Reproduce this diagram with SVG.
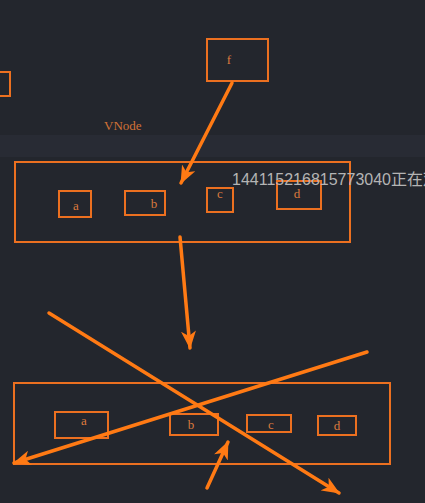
<svg xmlns="http://www.w3.org/2000/svg" width="425" height="503" viewBox="0 0 425 503">
<style>
.box{fill:none;stroke:#ec7020;stroke-width:2}
.lbl{font-family:"Liberation Serif",serif;font-size:13px;fill:#dc7a3e;text-anchor:middle}
.ln{stroke:#ff7a14;stroke-width:3.5;stroke-linecap:round;fill:none;marker-end:url(#ah)}
</style>
<defs>
<marker id="ah" markerUnits="userSpaceOnUse" viewBox="0 0 18 15" refX="17" refY="7.5" markerWidth="18" markerHeight="15" orient="auto">
<path d="M0,0 L18,7.5 L0,15 L5,7.5 z" fill="#ff7a14"/>
</marker>
</defs>
<rect width="425" height="503" fill="#23262d"/>
<rect x="0" y="135" width="425" height="22" fill="#282b34"/>
<g id="left-partial"><rect class="box" x="-5" y="72" width="15" height="24"/></g>
<g id="f"><rect class="box" x="207" y="39" width="61" height="42"/><text class="lbl" x="229" y="64">f</text></g>
<text id="vnode" x="104" y="130" font-family="Liberation Serif,serif" font-size="13" fill="#d27236">VNode</text>
<g id="top-list"><rect class="box" x="15" y="162" width="335" height="80"/></g>
<g id="a1"><rect class="box" x="59" y="191" width="32" height="26"/><text class="lbl" x="76" y="210">a</text></g>
<g id="b1"><rect class="box" x="125" y="191" width="40" height="24"/><text class="lbl" x="154" y="208">b</text></g>
<g id="c1"><rect class="box" x="207" y="188" width="26" height="24"/><text class="lbl" x="220" y="198">c</text></g>
<g id="d1"><rect class="box" x="277" y="181" width="44" height="28"/><text class="lbl" x="297" y="198">d</text></g>
<g id="bottom-list"><rect class="box" x="14" y="383" width="376" height="81"/></g>
<g id="a2"><rect class="box" x="55" y="412" width="53" height="26"/><text class="lbl" x="84" y="425">a</text></g>
<g id="b2"><rect class="box" x="170" y="414" width="48" height="21"/><text class="lbl" x="191" y="429">b</text></g>
<g id="c2"><rect class="box" x="247" y="415" width="44" height="17"/><text class="lbl" x="271" y="429">c</text></g>
<g id="d2"><rect class="box" x="318" y="416" width="38" height="19"/><text class="lbl" x="337" y="430">d</text></g>
<g id="connectors">
<line class="ln" x1="232" y1="83" x2="181" y2="183"/>
<line class="ln" x1="180" y1="237" x2="190" y2="348"/>
<line class="ln" x1="49" y1="313" x2="339" y2="493"/>
<line class="ln" x1="367" y1="352" x2="14" y2="463"/>
<line class="ln" x1="207" y1="488" x2="228" y2="442"/>
</g>
<text id="overlay" x="232" y="185" font-family="Liberation Sans,Noto Sans CJK SC,sans-serif" font-size="16" fill="#b4b4b4">144115216815773040正在观</text>
</svg>
